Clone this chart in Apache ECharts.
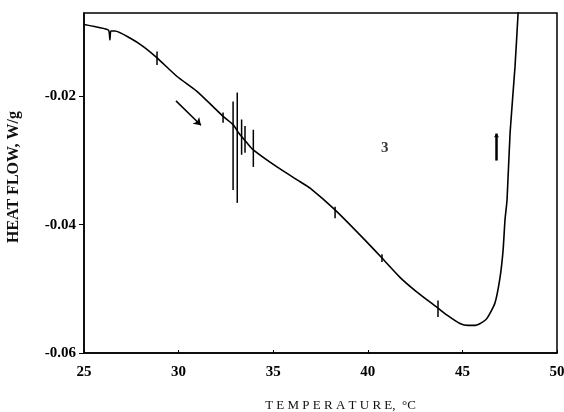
<!DOCTYPE html>
<html>
<head>
<meta charset="utf-8">
<script src="https://cdn.jsdelivr.net/npm/echarts@6/dist/echarts.min.js"></script>
<style>html,body{margin:0;padding:0;background:#fff}#c{width:564px;height:412px}</style>
</head>
<body>
<div id="c"></div>
<script>
// Temperature (°C) and heat flow (W/g)
const temps = [25.0,25.85,26.3,26.37,26.42,26.64,27.43,28.12,28.86,29.92,30.97,31.82,32.35,32.88,33.2,33.6,33.93,35.2,36.42,36.95,38.27,39.75,40.75,41.7,42.6,43.71,44.19,44.87,45.3,45.67,46.0,46.3,46.72,46.99,47.15,47.25,47.36,47.52,47.78,47.94,47.98];
const heatFlow = [-0.0088,-0.0093,-0.0097,-0.0112,-0.0098,-0.0098,-0.0109,-0.0122,-0.0140,-0.0169,-0.0192,-0.0216,-0.0231,-0.0244,-0.0258,-0.0272,-0.0283,-0.0310,-0.0333,-0.0343,-0.0377,-0.0421,-0.0452,-0.0482,-0.0505,-0.0530,-0.0541,-0.0554,-0.0557,-0.0557,-0.0553,-0.0546,-0.0522,-0.0482,-0.0440,-0.0393,-0.0361,-0.0257,-0.0154,-0.0072,-0.0050];
// Noise spikes / marks: [temperature, low, high]
const spikeT = [28.86,32.35,32.88,33.10,33.33,33.51,33.95,38.27,40.75,43.71];
const spikeLow = [-0.0151,-0.0241,-0.0346,-0.0366,-0.0291,-0.0288,-0.0310,-0.0390,-0.0458,-0.0544];
const spikeHigh = [-0.0130,-0.0225,-0.0208,-0.0194,-0.0236,-0.0246,-0.0252,-0.0372,-0.0446,-0.0518];
// Heating-direction arrow and upward mark
const arrowFrom = [29.86,-0.0207], arrowTo = [31.18,-0.0245];
const upFrom = [46.8,-0.0300], upTo = [46.8,-0.0258];
const curveLabel = {text:'3', t:40.9, hf:-0.0280};
const xTicks = [25,30,35,40,45,50];
const yTicks = [-0.06,-0.04,-0.02];

const serif = '"Liberation Serif","DejaVu Serif",serif';
const chart = echarts.init(document.getElementById('c'), null, {renderer:'canvas'});
const curve = temps.map((t,i)=>[t,heatFlow[i]]);
const spikes = spikeT.map((t,i)=>[t,spikeLow[i],spikeHigh[i]]);

chart.setOption({
  animation:false,
  grid:{left:84,right:7,top:13,bottom:59,show:true,borderColor:'#000',borderWidth:1.5,
    containLabel:false,outerBoundsMode:'none'},
  xAxis:{type:'value',min:xTicks[0],max:xTicks[xTicks.length-1],interval:5,
    name:'T E M P E R A T U R E,  °C',nameLocation:'middle',nameGap:46,
    nameTextStyle:{fontFamily:serif,fontSize:13,color:'#111',padding:[0,0,0,40]},
    axisLine:{show:true,onZero:false,lineStyle:{color:'#000',width:1.5}},
    axisTick:{show:true,inside:true,length:3,lineStyle:{color:'#000'}},
    axisLabel:{fontFamily:serif,fontWeight:'bold',fontSize:15,color:'#000',margin:12},
    splitLine:{show:false}},
  yAxis:{type:'value',min:yTicks[0],max:-0.007,interval:0.02,
    name:'HEAT FLOW, W/g',nameLocation:'middle',nameGap:62,
    nameTextStyle:{fontFamily:serif,fontSize:16,fontWeight:'bold',color:'#111',padding:[0,0,0,12]},
    axisLine:{show:true,onZero:false,lineStyle:{color:'#000',width:1.5}},
    axisTick:{show:true,length:5,lineStyle:{color:'#000'}},
    axisLabel:{fontFamily:serif,fontWeight:'bold',fontSize:15,color:'#000',margin:8,showMaxLabel:false,
      formatter:v=>yTicks.some(t=>Math.abs(t-v)<1e-9)?v.toFixed(2):''},
    splitLine:{show:false}},
  series:[
    {type:'line',data:curve,showSymbol:false,smooth:0.2,clip:true,
      lineStyle:{color:'#000',width:1.6},
      markLine:{silent:true,symbol:['none','arrow'],symbolSize:7,label:{show:false},
        lineStyle:{color:'#000',width:1.5,type:'solid'},
        data:[[{coord:arrowFrom},{coord:arrowTo}],[{coord:upFrom,symbol:'none',lineStyle:{width:2.5}},{coord:upTo,symbolSize:4}]]}},
    {type:'custom',data:spikes,silent:true,
      renderItem:(p,api)=>{const a=api.coord([api.value(0),api.value(1)]);const b=api.coord([api.value(0),api.value(2)]);
        return {type:'line',shape:{x1:a[0],y1:a[1],x2:b[0],y2:b[1]},style:{stroke:'#000',lineWidth:1.5}};}},
    {type:'scatter',data:[[curveLabel.t,curveLabel.hf]],symbolSize:0,silent:true,
      label:{show:true,position:'inside',formatter:curveLabel.text,fontFamily:serif,fontWeight:'bold',fontSize:15,color:'#000'}}
  ]
});
</script>
</body>
</html>
